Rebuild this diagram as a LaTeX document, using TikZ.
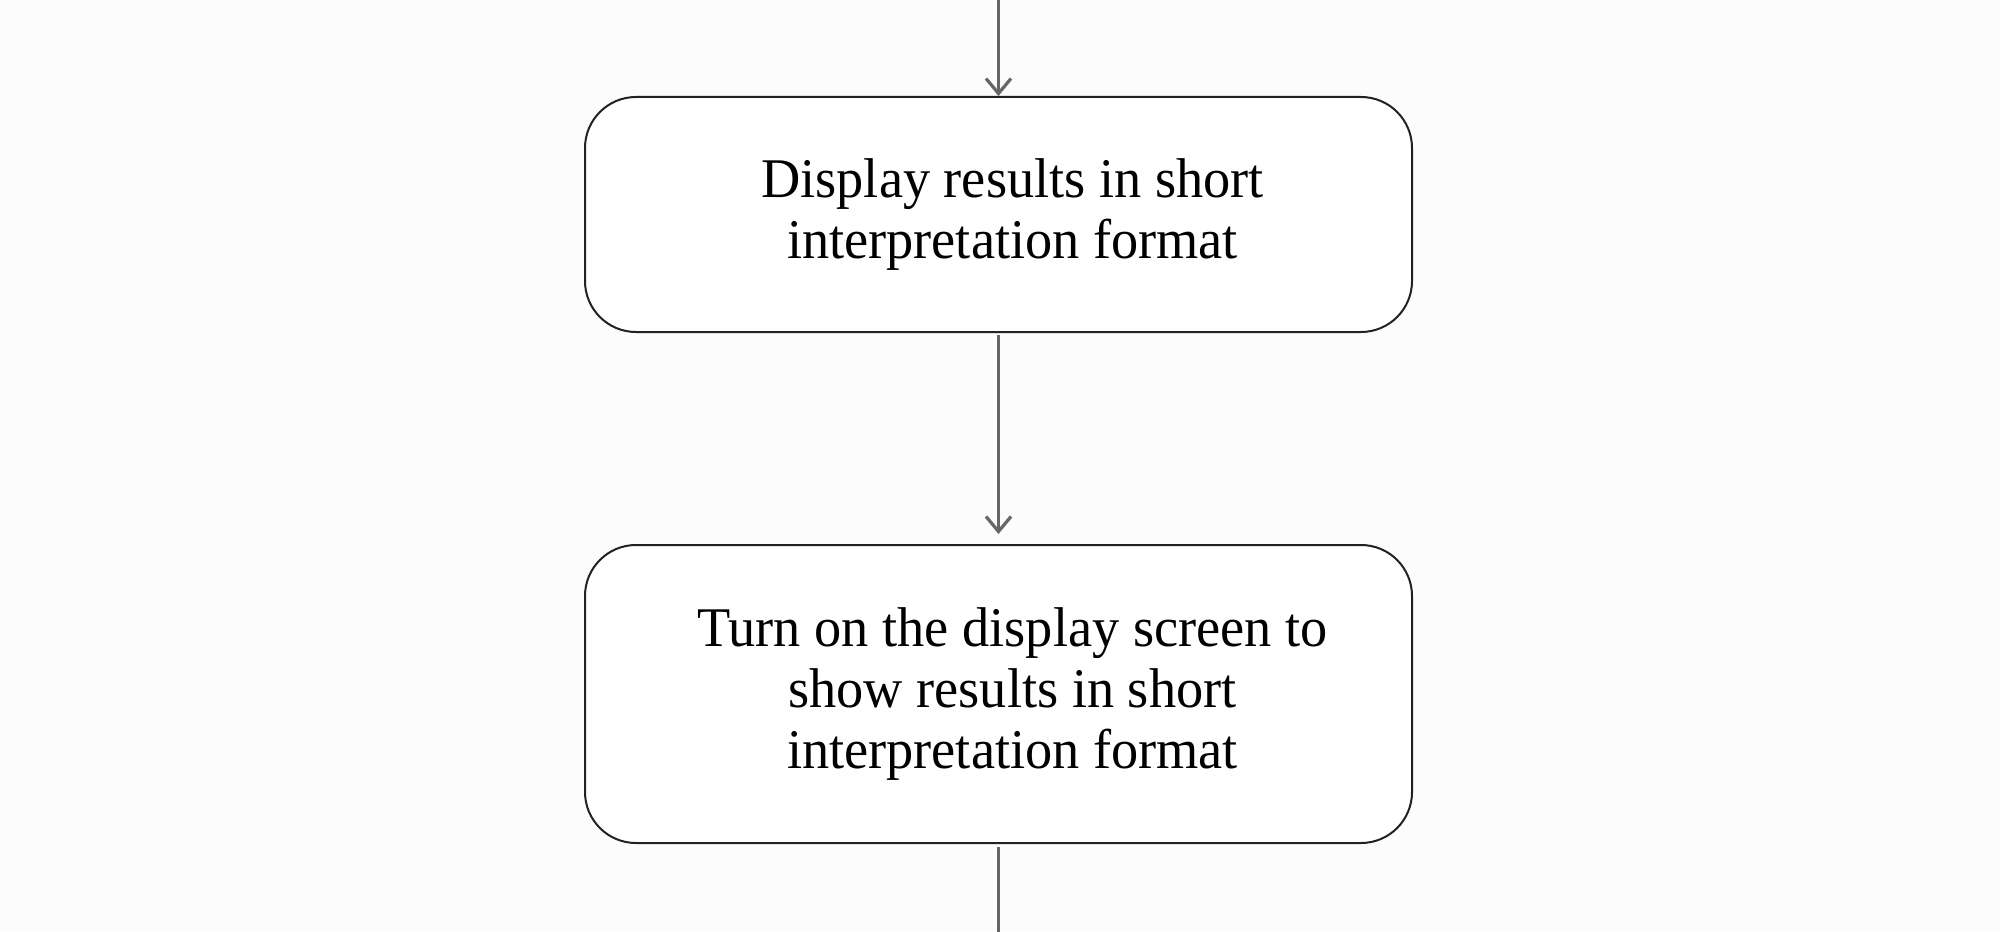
\documentclass[tikz,border=0pt]{standalone}
\usepackage{fontspec}
\setmainfont[FakeStretch=0.97]{Liberation Serif}
\usetikzlibrary{positioning,arrows.meta}
\definecolor{pagebg}{HTML}{FCFCFC}
\definecolor{boxline}{HTML}{222222}
\definecolor{flowline}{HTML}{666666}
\newcommand{\indentline}{\hspace*{14pt}}

\begin{document}
\begin{tikzpicture}[x=0.5pt, y=-0.5pt,
		stepbox/.style={draw=boxline, line width=1pt, fill=white, rounded corners=25.5pt,
			minimum width=413.5pt, inner sep=0pt, align=center,
			font=\fontsize{28}{30.5}\selectfont},
		flow/.style={draw=flowline, line width=1.6pt, -{Straight Barb[length=7.5pt, width=12.5pt]}}]
		\fill[pagebg] (0, 0) rectangle (2000, 931);
		\useasboundingbox (0, 0) rectangle (2000, 931);

		\node[stepbox, minimum height=117.5pt] (show) at (998.5, 214.5)
			{\indentline Display results in short\\\indentline interpretation format};
		\node[stepbox, minimum height=149pt, below=105.5pt of show] (screen)
			{\indentline Turn on the display screen to\\\indentline show results in short\\\indentline interpretation format};

		\coordinate[above=48.5pt of show] (in);
		\coordinate[below=45pt of screen] (out);

		\draw [flow] (in) -- (show);
		\draw [flow, shorten <=1pt, shorten >=5pt] (show) -- (screen);
		\draw [flowline, line width=1.6pt, shorten <=1.5pt] (screen) -- (out);
	\end{tikzpicture}
\end{document}
